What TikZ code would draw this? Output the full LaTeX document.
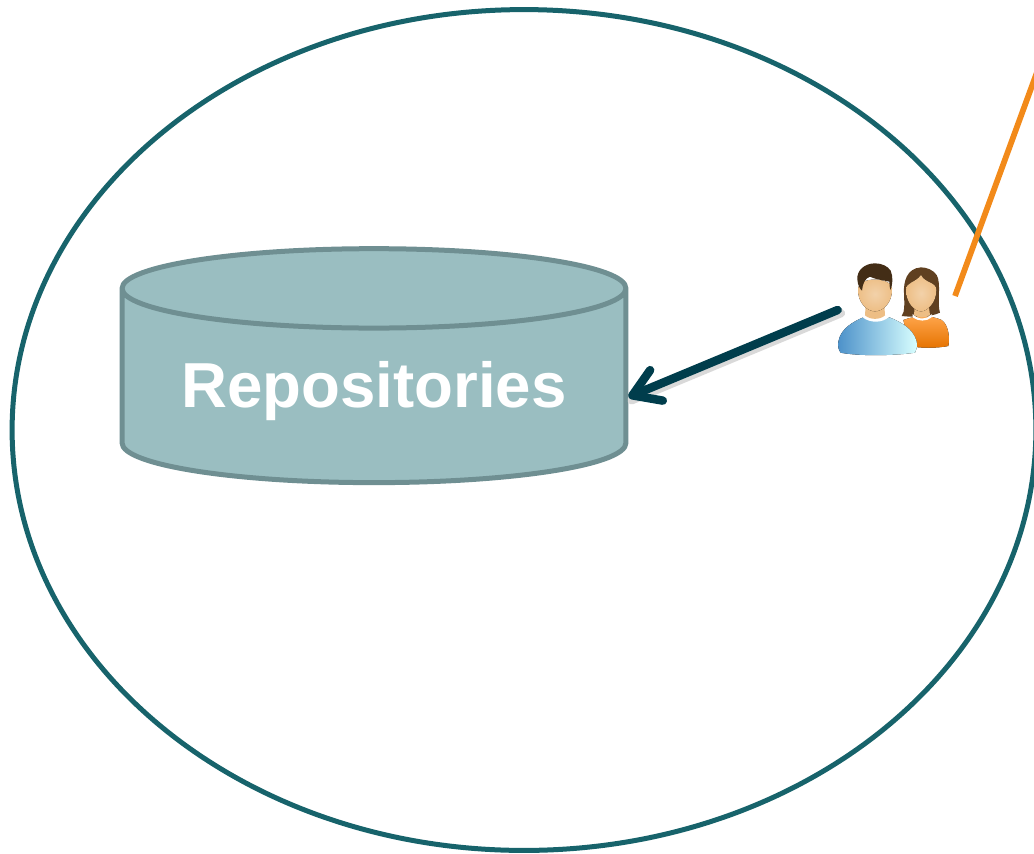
\documentclass[tikz,border=0pt]{standalone}
\usepackage{fontspec}
\setmainfont{Liberation Sans}
\usetikzlibrary{shapes.geometric, arrows.meta}
\definecolor{tealring}{HTML}{17636B}
\definecolor{repofill}{HTML}{9ABEC1}
\definecolor{repoline}{HTML}{6F8F92}
\definecolor{arrowdark}{HTML}{003D4C}
\definecolor{leadorange}{HTML}{F28A1A}
\definecolor{skin}{HTML}{EDBE85}
\definecolor{skinedge}{HTML}{C98B4E}
\tikzstyle{ring} = [draw=tealring,line width=0.1cm]
\tikzstyle{repo} = [draw=repoline,fill=repofill,line width=0.1cm,shape=cylinder,shape border rotate=90,aspect=0.2,minimum width=10.08cm,minimum height=4.68cm]
\tikzstyle{arrow} = [draw=arrowdark,line width=0.17cm,line cap=round,-{Straight Barb[length=0.52cm,width=0.66cm,round]}]
\tikzstyle{arrowshade} = [draw=black!15,line width=0.17cm,line cap=round,transform canvas={shift={(1.8pt,-1.8pt)}}]
\tikzstyle{lead} = [draw=leadorange,line width=0.115cm]

\begin{document}
\begin{tikzpicture}[x=0.02cm,y=-0.02cm]
\clip (0,0) rectangle (1034,853);
\node[ring,ellipse,minimum width=20.48cm,minimum height=16.82cm,inner sep=0pt] (boundary) at (524,430) {};
\node[repo,text=white,font=\bfseries\fontsize{36.2}{40}\selectfont] (repositories) at (374,391) {Repositories};
\node[minimum width=2.24cm,minimum height=1.9cm] (users) at (894,310) {};

% woman behind, man in front
\begin{scope}[shift={(820,240)},x=0.00667cm,y=-0.00667cm]
\fill[top color=orange!70!white,bottom color=orange!90!black] (250,240) .. controls (290,225) and (330,225) .. (365,240) .. controls (385,255) and (390,290) .. (385,318) .. controls (350,325) and (300,325) .. (270,318) -- cycle;
\fill[color=brown!50!black] (303,82) .. controls (260,85) and (250,125) .. (252,160) .. controls (253,190) and (255,215) .. (245,228) .. controls (280,232) and (330,232) .. (360,218) .. controls (350,190) and (365,130) .. (350,105) .. controls (340,90) and (320,82) .. (303,82) -- cycle;
\fill[white] (278,222) .. controls (295,240) and (320,240) .. (335,222) -- (335,232) .. controls (320,245) and (295,245) .. (278,232) -- cycle;
\fill[skin] (285,190) -- (325,190) -- (330,225) .. controls (315,235) and (295,235) .. (282,225) -- cycle;
\fill[inner color=skin!70!white,outer color=skin] (258,150) .. controls (258,125) and (285,130) .. (303,105) .. controls (315,130) and (349,125) .. (349,150) .. controls (349,190) and (320,214) .. (303,214) .. controls (285,214) and (258,190) .. (258,150) -- cycle;
\fill[left color=blue!45!cyan!70!black!70!white,right color=cyan!15!white] (55,305) .. controls (62,265) and (100,245) .. (130,232) .. controls (150,245) and (185,245) .. (208,232) .. controls (240,245) and (280,265) .. (290,305) .. controls (292,320) and (290,330) .. (285,338) .. controls (220,348) and (110,348) .. (62,338) .. controls (55,330) and (53,318) .. (55,305) -- cycle;
\fill[white] (128,232) .. controls (150,250) and (190,250) .. (210,228) -- (205,222) -- (135,222) -- cycle;
\fill[skin] (138,180) -- (192,180) -- (195,226) .. controls (180,240) and (150,240) .. (135,226) -- cycle;
\fill[inner color=skin!70!white,outer color=skin] (114,145) .. controls (114,110) and (214,110) .. (216,145) .. controls (218,190) and (187,214) .. (165,214) .. controls (143,214) and (112,190) .. (114,145) -- cycle;
\fill[brown!35!black] (165,70) .. controls (135,70) and (110,90) .. (112,118) .. controls (113,135) and (120,148) .. (126,152) .. controls (128,130) and (135,115) .. (150,110) .. controls (170,120) and (200,122) .. (208,125) .. controls (208,135) and (210,145) .. (211,150) .. controls (218,135) and (220,110) .. (212,92) .. controls (203,78) and (185,70) .. (165,70) -- cycle;
\end{scope}

\coordinate (leadtop) at (1040,64);
\coordinate (leadend) at (955,296);
\draw[lead] (leadend) -- (leadtop);
\draw[arrowshade] (users.west) -- ([yshift=-0.12cm]repositories.east);
\draw[arrow] (users.west) -- ([yshift=-0.12cm]repositories.east);
\end{tikzpicture}
\end{document}
